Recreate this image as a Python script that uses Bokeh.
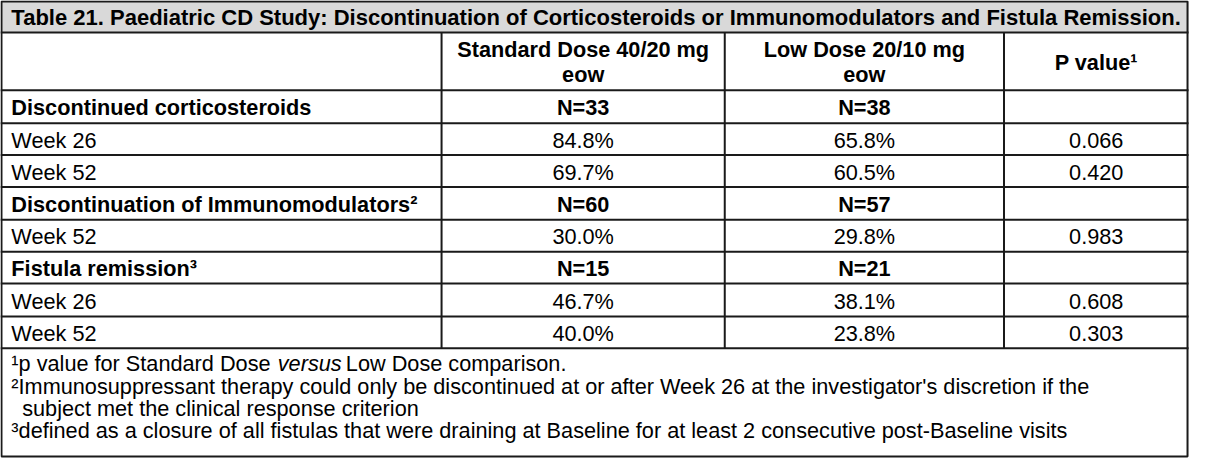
from bokeh.plotting import figure
from bokeh.models import ColumnDataSource
from bokeh.core.properties import value
from bokeh.embed import file_html
from bokeh.resources import INLINE

title = "Table 21. Paediatric CD Study: Discontinuation of Corticosteroids or Immunomodulators and Fistula Remission."
col_headers = [["Standard Dose 40/20 mg", "eow"], ["Low Dose 20/10 mg", "eow"], ["P value\u00b9"]]
row_labels = ["Discontinued corticosteroids", "Week 26", "Week 52",
              "Discontinuation of Immunomodulators\u00b2", "Week 52",
              "Fistula remission\u00b3", "Week 26", "Week 52"]
row_bold = [True, False, False, True, False, True, False, False]
std_dose = ["N=33", "84.8%", "69.7%", "N=60", "30.0%", "N=15", "46.7%", "40.0%"]
low_dose = ["N=38", "65.8%", "60.5%", "N=57", "29.8%", "N=21", "38.1%", "23.8%"]
p_values = ["", "0.066", "0.420", "", "0.983", "", "0.608", "0.303"]

# layout (reference pixel units)
W, H = 1205, 474
col_edges = [0, 447, 734, 1017, 1204]
row_edges = [33, 93, 127, 160, 193, 227, 260, 293, 327, 360]
foot_y = [376, 399, 422, 445]
FONT = value("Liberation Sans")
FS = "21.7px"
LINE = "#1a1a1a"

p = figure(width=1189, height=458, x_range=(0, W), y_range=(H, 0),
           output_backend="svg", toolbar_location=None, min_border=0)
p.axis.visible = False
p.grid.visible = False
p.outline_line_color = None
p.background_fill_color = "white"

# title band
p.quad(left=[0], right=[1204], top=[0], bottom=[33], fill_color="#d9d9d9", line_color=None)

# horizontal lines
p.segment(x0=[0] * len(row_edges), x1=[1204] * len(row_edges), y0=row_edges, y1=row_edges,
          line_color=LINE, line_width=2)
# vertical column lines
inner = col_edges[1:-1]
p.segment(x0=inner, x1=inner, y0=[33] * len(inner), y1=[360] * len(inner), line_color=LINE, line_width=2)
# outer border
p.quad(left=[1], right=[1203], top=[1], bottom=[472], fill_color=None, line_color=LINE, line_width=2)

# title
p.text(x=[11], y=[17.5], text=[title], text_font=FONT, text_font_size="22px",
       text_font_style="bold", text_baseline="middle", text_color="black")

# column headers
centers = [(col_edges[i] + col_edges[i + 1]) / 2 for i in range(1, 4)]
hx, hy, ht = [], [], []
for c, lines in zip(centers, col_headers):
    if len(lines) == 2:
        hx += [c, c]; hy += [51, 77]; ht += lines
    else:
        hx.append(c); hy.append(64); ht.append(lines[0])
p.text(x=hx, y=hy, text=ht, text_font=FONT, text_font_size=FS, text_font_style="bold",
       text_align="center", text_baseline="middle", text_color="black")

# body
mids = [(row_edges[i + 1] + row_edges[i + 2]) / 2 + 1 for i in range(len(row_labels))]
for bold in (True, False):
    idx = [i for i in range(len(row_labels)) if row_bold[i] == bold]
    style = "bold" if bold else "normal"
    src = ColumnDataSource(dict(y=[mids[i] for i in idx], lab=[row_labels[i] for i in idx],
                                s=[std_dose[i] for i in idx], l=[low_dose[i] for i in idx],
                                pv=[p_values[i] for i in idx]))
    p.text(x=11, y="y", text="lab", source=src, text_font=FONT, text_font_size=FS,
           text_font_style=style, text_baseline="middle", text_color="black")
    p.text(x=centers[0], y="y", text="s", source=src, text_font=FONT, text_font_size=FS,
           text_font_style=style, text_align="center", text_baseline="middle", text_color="black")
    p.text(x=centers[1], y="y", text="l", source=src, text_font=FONT, text_font_size=FS,
           text_font_style=style, text_align="center", text_baseline="middle", text_color="black")
    p.text(x=centers[2], y="y", text="pv", source=src, text_font=FONT, text_font_size=FS,
           text_font_style=style, text_align="center", text_baseline="middle", text_color="black")

# footnotes
p.text(x=[11, 11, 22, 11], y=foot_y,
       text=["\u00b9p value for Standard Dose",
             "\u00b2Immunosuppressant therapy could only be discontinued at or after Week 26 at the investigator's discretion if the",
             "subject met the clinical response criterion",
             "\u00b3defined as a closure of all fistulas that were draining at Baseline for at least 2 consecutive post-Baseline visits"],
       text_font=FONT, text_font_size=FS, text_baseline="middle", text_color="black")
p.text(x=[281], y=[foot_y[0]], text=["versus"], text_font=FONT, text_font_size=FS,
       text_font_style="italic", text_baseline="middle", text_color="black")
p.text(x=[350], y=[foot_y[0]], text=["Low Dose comparison."], text_font=FONT, text_font_size=FS,
       text_baseline="middle", text_color="black")

open("out.html", "w").write(file_html(p, INLINE))
